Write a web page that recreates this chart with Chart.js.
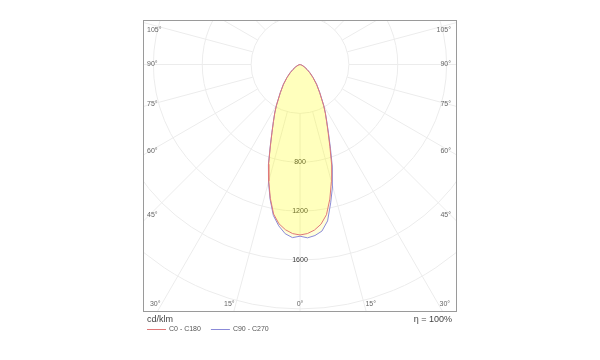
<!DOCTYPE html>
<html><head><meta charset="utf-8">
<script src="https://cdn.jsdelivr.net/npm/chart.js@4.4.1/dist/chart.umd.min.js"></script>
<style>html,body{margin:0;padding:0;background:#fff}#wrap{width:600px;height:360px}</style>
</head><body><div id="wrap"><canvas id="c" width="600" height="360"></canvas></div>
<script>
// Gamma angles measured from nadir (degrees)
const gammaAngles = [0,2.5,5,7.5,10,12.5,15,17.5,20,22.5,25,27.5,30,35,40,45,50,55,60,65,70,75,80,85,90];
// Luminous intensity, cd/klm
const c0   = [1395,1385,1360,1318,1248,1128,992,862,715,602,516,448,386,281,210,149,104,70,45,27,15,7,3,1,0];
const c180 = [1395,1385,1358,1315,1243,1122,988,855,708,598,514,447,385,280,210,150,105,70,45,27,15,7,3,1,0];
const c90  = [1405,1420,1405,1375,1300,1160,1030,880,728,610,520,452,390,283,212,152,106,71,46,27,15,7,3,1,0];
const c270 = [1405,1418,1390,1332,1255,1130,995,860,712,600,515,448,386,281,211,151,105,70,45,27,15,7,3,1,0];
// Grid / tick labels
const ringValues = [400,800,1200,1600,2000,2400];
const ringLabels = ['800','1200','1600'];
const sideAngleLabels = [105,90,75,60,45];
const bottomAngleLabels = [-30,-15,0,15,30];
const spokeStep = 15;
const seriesNames = ['C0 - C180','C90 - C270'];
const unitLabel = 'cd/klm';
const efficiencyLabel = 'η = 100%';

function polarShape(left, right){
  const pts = [];
  for (let i = gammaAngles.length-1; i >= 0; i--) {
    const a = gammaAngles[i]*Math.PI/180;
    pts.push({x: -left[i]*Math.sin(a), y: -left[i]*Math.cos(a)});
  }
  for (let i = 1; i < gammaAngles.length; i++) {
    const a = gammaAngles[i]*Math.PI/180;
    pts.push({x: right[i]*Math.sin(a), y: -right[i]*Math.cos(a)});
  }
  return pts;
}

const K = 0.1222; // px per cd/klm
const FONT = '"Liberation Sans", Arial, sans-serif';

const polarPlugin = {
  id: 'polarGrid',
  beforeDraw(chart){
    const {ctx, chartArea: ca, scales: {x, y}} = chart;
    const cx = x.getPixelForValue(0), cy = y.getPixelForValue(0);
    const k = (x.getPixelForValue(1000) - cx)/1000;
    ctx.save();
    ctx.beginPath(); ctx.rect(ca.left, ca.top, ca.right-ca.left, ca.bottom-ca.top); ctx.clip();
    ctx.strokeStyle = '#ececec'; ctx.lineWidth = 1;
    ringValues.forEach(v => { ctx.beginPath(); ctx.arc(cx, cy, v*k, 0, Math.PI*2); ctx.stroke(); });
    const r0 = ringValues[0]*k, r1 = 5000*k;
    for (let g = 0; g < 360; g += spokeStep) {
      const a = g*Math.PI/180, sx = Math.sin(a), sy = Math.cos(a);
      ctx.beginPath(); ctx.moveTo(cx+sx*r0, cy+sy*r0); ctx.lineTo(cx+sx*r1, cy+sy*r1); ctx.stroke();
    }
    // ring labels
    ctx.font = '7px ' + FONT; ctx.fillStyle = '#3a3a3a'; ctx.textAlign = 'center'; ctx.textBaseline = 'middle';
    ringLabels.forEach(t => { ctx.fillText(t, cx, y.getPixelForValue(-Number(t))); });
    // side angle labels
    ctx.fillStyle = '#666';
    const half = (ca.right - ca.left)/2;
    sideAngleLabels.forEach(g => {
      const a = g*Math.PI/180;
      let ly = cy + half*Math.cos(a)/Math.sin(a) - 7.7*Math.cos(a);
      ly = Math.max(ly, ca.top + 9.5);
      ctx.textAlign = 'left'; ctx.fillText(g + '°', ca.left + 3, ly);
      ctx.textAlign = 'right'; ctx.fillText(g + '°', ca.right - 5, ly);
    });
    // bottom angle labels
    const by = ca.bottom - 7;
    ctx.textAlign = 'center';
    bottomAngleLabels.forEach(g => {
      const a = Math.abs(g)*Math.PI/180;
      let lx = cx + Math.sign(g)*((by - cy)*Math.tan(a) + (g === 0 ? 0 : 6.5));
      lx = Math.min(Math.max(lx, ca.left + 9), ca.right - 11);
      ctx.fillText(Math.abs(g) + '°', lx, by);
    });
    ctx.restore();
  },
  afterDraw(chart){
    const {ctx, chartArea: ca} = chart;
    ctx.save();
    ctx.strokeStyle = '#9a9a9a'; ctx.lineWidth = 1;
    ctx.strokeRect(ca.left - 0.5, ca.top - 0.5, ca.right - ca.left + 1, ca.bottom - ca.top + 1);
    ctx.fillStyle = '#444'; ctx.font = '9px ' + FONT; ctx.textBaseline = 'middle';
    ctx.textAlign = 'left'; ctx.fillText(unitLabel, ca.left + 3, ca.bottom + 9);
    ctx.textAlign = 'right'; ctx.fillText(efficiencyLabel, ca.right - 4, ca.bottom + 9);
    ctx.font = '7px ' + FONT; ctx.textAlign = 'left'; ctx.fillStyle = '#555';
    let lx = ca.left + 3; const ly = ca.bottom + 18.5;
    chart.data.datasets.forEach(ds => {
      ctx.strokeStyle = ds.borderColor; ctx.beginPath(); ctx.moveTo(lx, ly); ctx.lineTo(lx + 19, ly); ctx.stroke();
      ctx.fillText(ds.label, lx + 22, ly);
      lx += 22 + ctx.measureText(ds.label).width + 10;
    });
    ctx.restore();
  }
};

new Chart(document.getElementById('c'), {
  type: 'scatter',
  data: {
    datasets: [
      {label: seriesNames[0], data: polarShape(c180, c0), showLine: true, fill: 'shape',
       borderColor: '#e07878', backgroundColor: 'rgba(255,255,0,0.14)', borderWidth: 1, pointRadius: 0, tension: 0},
      {label: seriesNames[1], data: polarShape(c270, c90), showLine: true, fill: 'shape',
       borderColor: '#8a8ad8', backgroundColor: 'rgba(255,255,0,0.14)', borderWidth: 1, pointRadius: 0, tension: 0}
    ]
  },
  options: {
    responsive: false, animation: false, devicePixelRatio: 1,
    layout: {padding: {left: 144, right: 144, top: 21, bottom: 49}},
    scales: {
      x: {display: false, min: -156/K, max: 156/K},
      y: {display: false, min: -246.5/K, max: 43.5/K}
    },
    plugins: {legend: {display: false}, tooltip: {enabled: false}, filler: {drawTime: 'beforeDatasetsDraw'}}
  },
  plugins: [polarPlugin]
});
</script></body></html>
